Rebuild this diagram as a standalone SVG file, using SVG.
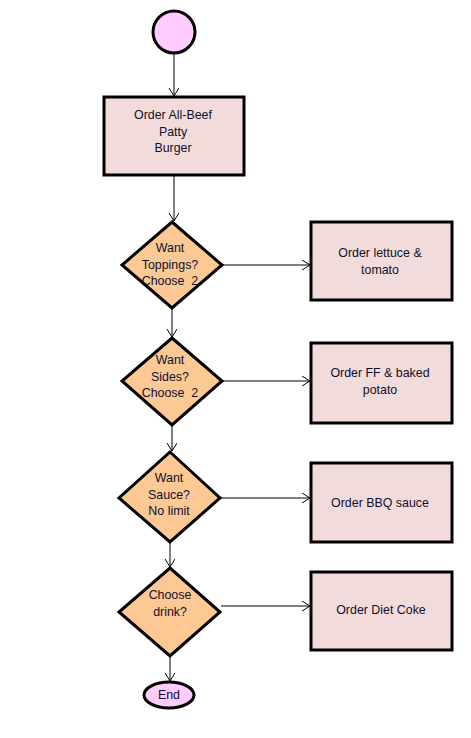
<svg xmlns="http://www.w3.org/2000/svg" width="471" height="738" viewBox="0 0 471 738">
<style>
.box{fill:#F2DCDB;stroke:#000;stroke-width:3}
.dia{fill:#FCC894;stroke:#000;stroke-width:3;stroke-linejoin:miter}
.term{fill:#FFCCFF;stroke:#000;stroke-width:3}
.t{font-family:"Liberation Sans",Arial,sans-serif;font-size:12.4px;fill:#10102a;text-anchor:middle;dominant-baseline:central}
.c{stroke:#000;stroke-width:1;fill:none;marker-end:url(#arr)}
</style>
<defs>
<marker id="arr" markerUnits="userSpaceOnUse" markerWidth="12" markerHeight="12" refX="9" refY="5" orient="auto">
<path d="M1,0 L9,5 L1,10" fill="none" stroke="#000" stroke-width="1"/>
</marker>
</defs>
<rect width="471" height="738" fill="#fff"/>
<g id="connectors">
<line class="c" x1="174" y1="54" x2="174" y2="96"/>
<line class="c" x1="174" y1="176" x2="174" y2="221"/>
<line class="c" x1="172" y1="309" x2="172" y2="337"/>
<line class="c" x1="172" y1="426" x2="172" y2="451"/>
<line class="c" x1="170" y1="543" x2="170" y2="567"/>
<line class="c" x1="170" y1="657" x2="170" y2="681"/>
<line class="c" x1="223" y1="265" x2="310" y2="265"/>
<line class="c" x1="223" y1="381" x2="310" y2="381"/>
<line class="c" x1="221" y1="498" x2="310" y2="498"/>
<line class="c" x1="221" y1="606" x2="310" y2="606"/>
</g>
<g id="start"><circle class="term" cx="174" cy="32" r="21"/></g>
<g id="order-burger">
<rect class="box" x="104" y="97" width="140" height="78"/>
<text class="t" x="173" y="115">Order All-Beef</text>
<text class="t" x="173" y="131.5">Patty</text>
<text class="t" x="173" y="148">Burger</text>
</g>
<g id="want-toppings">
<polygon class="dia" points="172,222 222,265 172,308 122,265"/>
<text class="t" x="170" y="248">Want</text>
<text class="t" x="170" y="264.5">Toppings?</text>
<text class="t" x="170" y="281" xml:space="preserve">Choose  2</text>
</g>
<g id="order-toppings">
<rect class="box" x="311" y="222" width="141" height="78"/>
<text class="t" x="380" y="253">Order lettuce &amp;</text>
<text class="t" x="380" y="270">tomato</text>
</g>
<g id="want-sides">
<polygon class="dia" points="172,338 222,381 172,425 122,381"/>
<text class="t" x="170" y="360">Want</text>
<text class="t" x="170" y="376.5">Sides?</text>
<text class="t" x="170" y="393" xml:space="preserve">Choose  2</text>
</g>
<g id="order-sides">
<rect class="box" x="311" y="343" width="141" height="80"/>
<text class="t" x="380" y="373">Order FF &amp; baked</text>
<text class="t" x="380" y="390">potato</text>
</g>
<g id="want-sauce">
<polygon class="dia" points="170,452 220,498 170,542 119,498"/>
<text class="t" x="169" y="478">Want</text>
<text class="t" x="169" y="494.5">Sauce?</text>
<text class="t" x="169" y="511">No limit</text>
</g>
<g id="order-sauce">
<rect class="box" x="311" y="463" width="141" height="79"/>
<text class="t" x="380" y="503">Order BBQ sauce</text>
</g>
<g id="choose-drink">
<polygon class="dia" points="170,568 220,612 170,656 119,612"/>
<text class="t" x="170" y="595">Choose</text>
<text class="t" x="170" y="612">drink?</text>
</g>
<g id="order-drink">
<rect class="box" x="311" y="572" width="141" height="78"/>
<text class="t" x="381" y="610">Order Diet Coke</text>
</g>
<g id="end">
<ellipse class="term" cx="169" cy="695" rx="25" ry="13"/>
<text class="t" x="169" y="695">End</text>
</g>
</svg>
